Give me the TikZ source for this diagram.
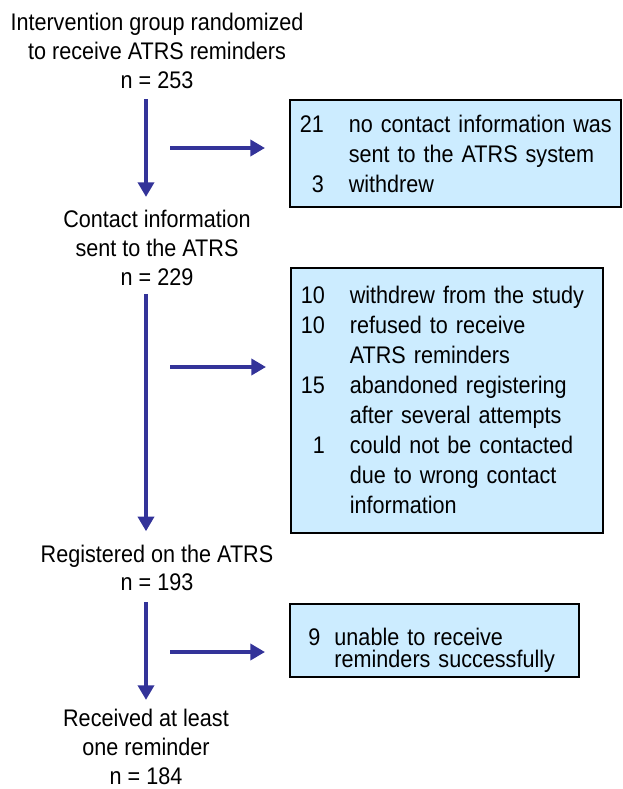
\documentclass[tikz,border=0pt]{standalone}
\usepackage{fontspec}
\setmainfont{Liberation Sans}[FakeStretch=0.9]
\usetikzlibrary{arrows.meta}
\definecolor{flowblue}{RGB}{51,51,153}
\definecolor{boxfill}{RGB}{204,236,255}

\begin{document}
\begin{tikzpicture}[
  x=0.75pt, y=-0.75pt,
  stage/.style={align=center, inner sep=0pt, font=\fontsize{18}{21.5}\selectfont},
  excl/.style={draw=black, line width=1.2pt, fill=boxfill, anchor=north west, align=left,
    inner xsep=7.5pt, inner ysep=0pt, text width=#1, font=\fontsize{18}{22.5}\selectfont},
  arr/.style={-{Triangle[length=11pt, width=12pt]}, line width=3.2pt, flowblue}]
\useasboundingbox (0,0) rectangle (622,789);
\node[stage] (rand) at (157,51) {Intervention group randomized\\to receive ATRS reminders\\n = 253};
\node[stage] (sent) at (157,248) {Contact information\\sent to the ATRS\\n = 229};
\node[stage] (reg) at (157,568) {Registered on the ATRS\\n = 193};
\node[stage] (recv) at (146,747) {Received at least\\one reminder\\n = 184};
\coordinate (spine) at (146,0);
\draw[arr, shorten <=8pt, shorten >=10pt] (rand.south -| spine) -- (sent.north -| spine);
\draw[arr, shorten <=6pt, shorten >=10pt] (sent.south -| spine) -- (reg.north -| spine);
\draw[arr, shorten <=8pt, shorten >=7pt] (reg.south -| spine) -- (recv.north -| spine);
\node[excl=233.25pt, text height=24.75pt, text depth=55.5pt] (lost1) at (289,99) {%
  \begin{tabular}[t]{@{}r@{\hspace{18.75pt}}l@{}}
  21 & no contact information was\\
     & sent to the ATRS system\\
   3 & withdrew
  \end{tabular}};
\node[excl=219pt, text height=27pt, text depth=171.75pt] (lost2) at (290,267) {%
  \begin{tabular}[t]{@{}r@{\hspace{18.75pt}}l@{}}
  10 & withdrew from the study\\
  10 & refused to receive\\
     & ATRS reminders\\
  15 & abandoned registering\\
     & after several attempts\\
   1 & could not be contacted\\
     & due to wrong contact\\
     & information
  \end{tabular}};
\node[excl=188.75pt, inner xsep=14pt, text height=31.5pt, text depth=23.25pt,
  font=\fontsize{18}{16.5}\selectfont] (lost3) at (289,603) {%
  9\hspace{10.5pt}unable to receive\\
  \phantom{9}\hspace{10.5pt}reminders successfully};
\coordinate (h1) at (170,148);
\coordinate (h2) at (170,367);
\coordinate (h3) at (170,652);
\draw[arr, shorten >=18pt] (h1) -- (h1 -| lost1.west);
\draw[arr, shorten >=18pt] (h2) -- (h2 -| lost2.west);
\draw[arr, shorten >=18pt] (h3) -- (h3 -| lost3.west);
\end{tikzpicture}
\end{document}
